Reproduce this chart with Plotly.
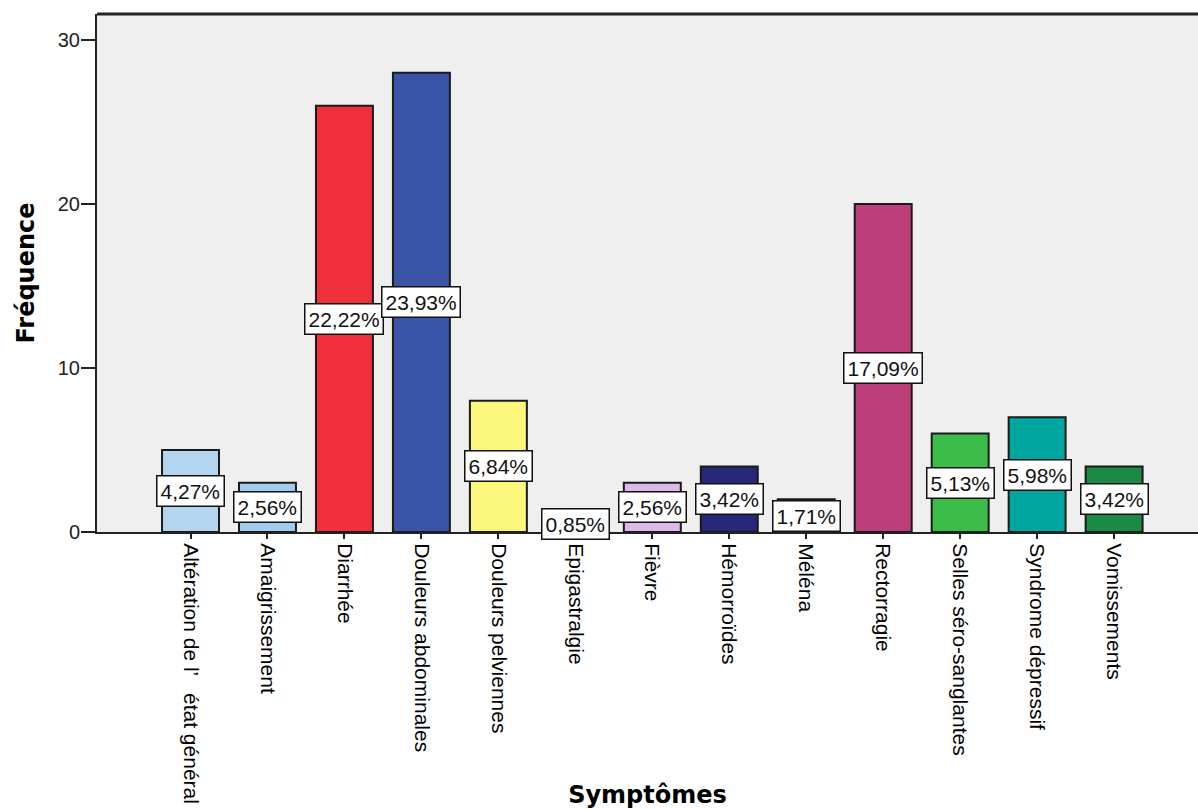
import plotly.graph_objects as go

# Symptom frequencies (n = 117)
symptomes = [
    "Altération de l’   état général",
    "Amaigrissement",
    "Diarrhée",
    "Douleurs abdominales",
    "Douleurs pelviennes",
    "Epigastralgie",
    "Fièvre",
    "Hémorroïdes",
    "Méléna",
    "Rectorragie",
    "Selles séro-sanglantes",
    "Syndrome dépressif",
    "Vomissements",
]
frequences = [5, 3, 26, 28, 8, 1, 3, 4, 2, 20, 6, 7, 4]
pourcentages = ["4,27%", "2,56%", "22,22%", "23,93%", "6,84%", "0,85%", "2,56%",
                "3,42%", "1,71%", "17,09%", "5,13%", "5,98%", "3,42%"]
couleurs = ["#b4d5f0", "#a2cbee", "#f0303a", "#3a55a8", "#fbf67c", "#ffffff",
            "#dcb9e8", "#28287a", "#ffffff", "#bd3e7b", "#3cbd4a", "#00a6a0", "#1a8a45"]

FONT = "Liberation Sans, Arial, sans-serif"
BOLD = "DejaVu Sans, Verdana, sans-serif"

fig = go.Figure(
    go.Bar(
        x=symptomes,
        y=frequences,
        width=0.74,
        marker=dict(color=couleurs, line=dict(color="#1a1a1a", width=2)),
        hoverinfo="x+y",
    )
)

# Percentage labels centred in each bar
for s, f, p in zip(symptomes, frequences, pourcentages):
    fig.add_annotation(
        x=s, y=f / 2, text=p, showarrow=False,
        font=dict(family=FONT, size=21, color="#111111"),
        bgcolor="white", bordercolor="#111111", borderwidth=1.5, borderpad=3,
    )

# Top edge of the plot frame
fig.add_shape(type="line", xref="paper", yref="paper", x0=0, x1=1, y0=1, y1=1,
              line=dict(color="#222222", width=3))

fig.update_layout(
    width=1198, height=809,
    margin=dict(l=97, r=0, t=14, b=277),
    paper_bgcolor="white",
    plot_bgcolor="#efefef",
    showlegend=False,
    xaxis=dict(
        range=[-1.215, 13.09],
        tickangle=90,
        tickfont=dict(family=FONT, size=21, color="black"),
        ticks="outside", ticklen=5, tickwidth=1.5, tickcolor="#222222",
        showline=True, linecolor="#222222", linewidth=2,
        showgrid=False, zeroline=False,
        title=dict(text="<b>Symptômes</b>", font=dict(family=BOLD, size=24, color="black"),
                   standoff=0),
        automargin=False,
    ),
    yaxis=dict(
        range=[0, 31.59],
        tickvals=[0, 10, 20, 30],
        tickfont=dict(family=FONT, size=20, color="#222222"),
        ticks="outside", ticklen=14, tickwidth=2, tickcolor="#222222",
        ticklabelstandoff=-3,
        showline=True, linecolor="#222222", linewidth=2,
        showgrid=False, zeroline=False,
        title=dict(text="<b>Fréquence</b>", font=dict(family=BOLD, size=24, color="black"),
                   standoff=16),
        automargin=False,
    ),
)

fig.write_html("out.html")
